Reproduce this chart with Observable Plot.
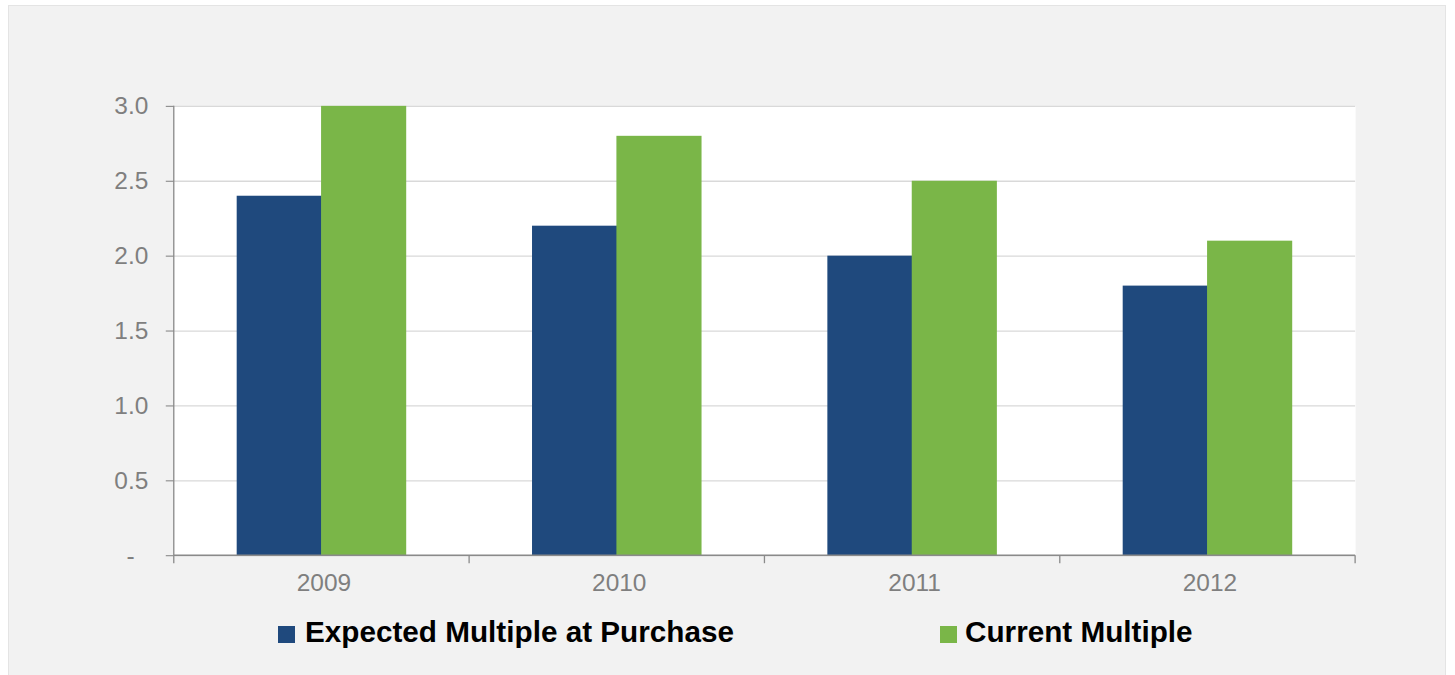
<!DOCTYPE html>
<html>
<head>
<meta charset="utf-8">
<script src="https://cdn.jsdelivr.net/npm/d3@7"></script>
<script src="https://cdn.jsdelivr.net/npm/@observablehq/plot@0.6"></script>
<style>
  html, body { margin: 0; padding: 0; background: #ffffff; overflow: hidden; }
  #panel { position: absolute; left: 8px; top: 5px; width: 1438px; height: 800px; background: #f2f2f2; border: 1px solid #e4e4e4; border-bottom: none; box-sizing: border-box; }
  #chart { position: absolute; left: 0; top: 0; }
  .sw { position: absolute; width: 17px; height: 17px; }
  .lt { position: absolute; font: bold 29.7px "Liberation Sans", Arial, sans-serif; line-height: 29px; color: #000; white-space: nowrap; }
</style>
</head>
<body>
<div id="panel">
  <div id="chart"></div>
  <div id="legend"></div>
</div>
<script>
const years = ["2009", "2010", "2011", "2012"];
const seriesNames = ["Expected Multiple at Purchase", "Current Multiple"];
const expectedValues = [2.4, 2.2, 2.0, 1.8];
const currentValues = [3.0, 2.8, 2.5, 2.1];
const yTicks = [0, 0.5, 1.0, 1.5, 2.0, 2.5, 3.0];
const colors = ["#1F497D", "#7AB648"];

const expected = years.map((y, i) => ({year: y, value: expectedValues[i]}));
const current = years.map((y, i) => ({year: y, value: currentValues[i]}));

// custom mark: axis lines and category boundary ticks, drawn from the scales
function axisLines(index, scales, values, dimensions) {
  const x = scales.x, y = scales.y;
  const bw = typeof x.bandwidth === "function" ? x.bandwidth()
    : (dimensions.width - dimensions.marginLeft - dimensions.marginRight) / years.length;
  const y0 = y(0), yTop = y(d3.max(yTicks));
  const g = d3.create("svg:g").attr("stroke", "#8a8a8a").attr("stroke-width", 1.3);
  const left = x(years[0]);
  const right = x(years[years.length - 1]) + bw;
  g.append("line").attr("x1", left).attr("x2", left).attr("y1", yTop).attr("y2", y0);
  g.append("line").attr("x1", left).attr("x2", right).attr("y1", y0).attr("y2", y0);
  const bounds = years.map(d => x(d)).concat([right]);
  for (const b of bounds) {
    g.append("line").attr("x1", b).attr("x2", b).attr("y1", y0).attr("y2", y0 + 8);
  }
  return g.node();
}

const plot = Plot.plot({
  width: 1438,
  height: 590,
  marginLeft: 165,
  marginRight: 90,
  marginTop: 100,
  marginBottom: 40,
  style: {background: "transparent", fontFamily: "'Liberation Sans', Arial, sans-serif", fontSize: "24.5px", overflow: "visible"},
  x: {domain: years, paddingInner: 0, paddingOuter: 0, round: false, label: null},
  y: {domain: [0, d3.max(yTicks)], label: null},
  marks: [
    Plot.frame({fill: "white", stroke: null}),
    Plot.gridY({ticks: yTicks, stroke: "#d9d9d9", strokeOpacity: 1, strokeWidth: 1.3}),
    Plot.barY(expected, {x: "year", y: "value", fill: colors[0], insetLeft: 63, insetRight: 147.5}),
    Plot.barY(current, {x: "year", y: "value", fill: colors[1], insetLeft: 147.5, insetRight: 63}),
    Plot.axisY({ticks: yTicks, tickFormat: d => d === 0 ? "-\u00a0\u00a0" : d.toFixed(1), tickSize: 8, tickPadding: 18, color: "#7f7f7f", label: null}),
    Plot.axisX({tickSize: 0, tickPadding: 18, dx: 2, color: "#7f7f7f", label: null}),
    axisLines
  ]
});
document.getElementById("chart").appendChild(plot);

const legend = document.getElementById("legend");
const legendPos = [{sw: 269, tx: 296}, {sw: 931, tx: 956}];
seriesNames.forEach((name, i) => {
  const sw = document.createElement("div");
  sw.className = "sw";
  sw.style.left = legendPos[i].sw + "px";
  sw.style.top = "620px";
  sw.style.background = colors[i];
  legend.appendChild(sw);
  const t = document.createElement("div");
  t.className = "lt";
  t.style.left = legendPos[i].tx + "px";
  t.style.top = "611px";
  t.textContent = name;
  legend.appendChild(t);
});
</script>
</body>
</html>
